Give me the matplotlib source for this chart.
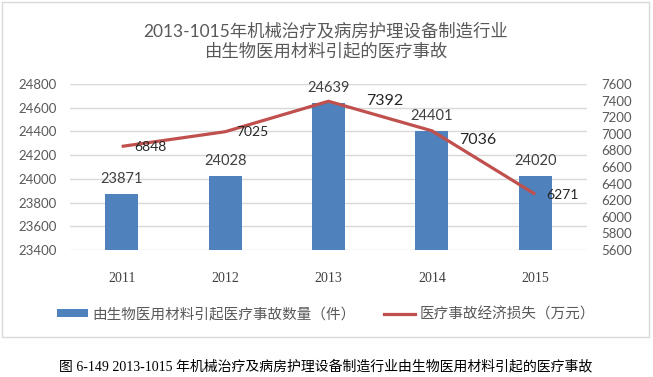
import matplotlib
matplotlib.use("Agg")
import matplotlib.pyplot as plt
from matplotlib.patches import Rectangle, Patch
from matplotlib.lines import Line2D

years = ["2011", "2012", "2013", "2014", "2015"]
accidents = [23871, 24028, 24639, 24401, 24020]
losses = [6848, 7025, 7392, 7036, 6271]
left_ticks = [23400, 23600, 23800, 24000, 24200, 24400, 24600, 24800]
right_ticks = [5600, 5800, 6000, 6200, 6400, 6600, 6800, 7000, 7200, 7400, 7600]

title = "2013-1015年机械治疗及病房护理设备制造行业\n由生物医用材料引起的医疗事故"
legend_bar = "由生物医用材料引起医疗事故数量（件）"
legend_line = "医疗事故经济损失（万元）"
caption = "图 6-149 2013-1015 年机械治疗及病房护理设备制造行业由生物医用材料引起的医疗事故"

# label offsets (pixels) and sizes for line labels (styling)
line_label_dx = [13, 11, 38, 27, 11]
line_label_dy = [-1, 0, 0, -9, -1]
line_label_fs = [10, 10, 11.5, 11.5, 10]

CJK = ["Noto Sans CJK SC", "DejaVu Sans"]
NUM = ["Lato", "DejaVu Sans"]
plt.rcParams['font.family'] = CJK

W, H = 653, 377
fig = plt.figure(figsize=(W / 100, H / 100), dpi=100)
fig.patch.set_facecolor("white")

# chart frame
fig.patches.append(Rectangle((2 / W, 1 - 337 / H), 647 / W, 335 / H,
                             transform=fig.transFigure, fill=False,
                             edgecolor="#d9d9d9", linewidth=1.0))

ax = fig.add_axes([70 / W, 1 - 250 / H, 517 / W, 166 / H])
x = list(range(len(years)))
bar_color = "#4F81BD"
line_color = "#C0504D"

ax.bar(x, [a - left_ticks[0] for a in accidents], bottom=left_ticks[0],
       width=0.32, color=bar_color, zorder=2)
ax.set_ylim(left_ticks[0], left_ticks[-1])
ax.set_xlim(-0.5, len(years) - 0.5)
ax.set_yticks(left_ticks)
ax.set_yticklabels([str(t) for t in left_ticks], family=NUM, fontsize=9.5, color="#595959")
ax.grid(axis="y", color="#d9d9d9", linewidth=1.0, zorder=0)
ax.set_axisbelow(True)
for s in ax.spines.values():
    s.set_visible(False)
ax.tick_params(axis="y", length=0, pad=9.5)
ax.tick_params(axis="x", length=0, pad=16)
ax.set_xticks(x)
ax.set_xticklabels(years, family=["Liberation Serif"], fontsize=10, color="#404040")

for xi, v in zip(x, accidents):
    ax.annotate(str(v), (xi, v), xytext=(0, 15 * 0.72), textcoords="offset points",
                ha="center", va="center", family=NUM, fontsize=10.5, color="#404040", zorder=5)

ax2 = ax.twinx()
ax2.plot(x, losses, color=line_color, linewidth=2.3, zorder=3, solid_capstyle="butt")
ax2.set_ylim(right_ticks[0], right_ticks[-1])
ax2.set_yticks(right_ticks)
ax2.set_yticklabels([str(t) for t in right_ticks], family=NUM, fontsize=9.5, color="#595959")
ax2.tick_params(axis="y", length=0, pad=10.5)
for s in ax2.spines.values():
    s.set_visible(False)

for xi, v, dx, dy, fs in zip(x, losses, line_label_dx, line_label_dy, line_label_fs):
    ax2.annotate(str(v), (xi, v), xytext=(dx * 0.72, dy * 0.72), textcoords="offset points",
                 ha="left", va="center", family=NUM, fontsize=fs, color="#262626", zorder=6)

fig.text(326 / W, 1 - 41 / H, title, ha="center", va="center", fontsize=12.5,
         color="#595959", linespacing=1.3, family=["Lato", "Noto Sans CJK SC"])

handles = [Patch(facecolor=bar_color, edgecolor="none"),
           Line2D([0], [0], color=line_color, linewidth=2.3)]
leg = fig.legend(handles, [legend_bar, legend_line], loc="center",
                 bbox_to_anchor=(326 / W, 1 - 314.5 / H), ncol=2, frameon=False,
                 fontsize=10.5, handlelength=2.1, handleheight=0.48, handletextpad=0.3,
                 columnspacing=2.0, borderpad=0, borderaxespad=0)
for t in leg.get_texts():
    t.set_color("#595959")

fig.text(326 / W, 1 - 367 / H, caption, ha="center", va="center", fontsize=10,
         color="black", family=["Liberation Serif", "Noto Sans CJK SC"])

fig.savefig("out.png", dpi=100, facecolor="white")
